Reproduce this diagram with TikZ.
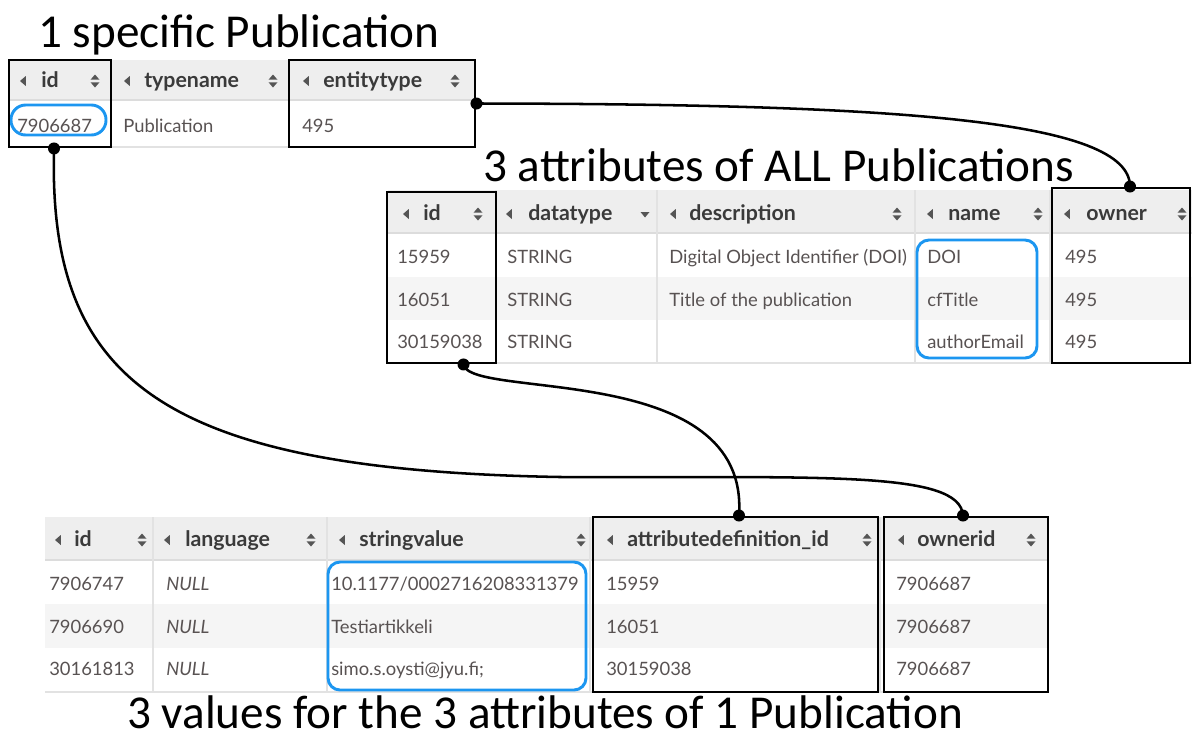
\documentclass[tikz,border=0pt]{standalone}
\usepackage{fontspec}
\setmainfont{Lato}
\newfontfamily\titlefont{Carlito}
\usetikzlibrary{fit,calc}
\definecolor{hdrbg}{HTML}{EEEEEE}
\definecolor{altbg}{HTML}{F5F5F5}
\definecolor{sepc}{HTML}{E2E2E2}
\definecolor{hdrline}{HTML}{DCDCDC}
\definecolor{celltxt}{RGB}{88,82,82}
\definecolor{hdrtxt}{HTML}{3A3A3A}
\definecolor{iconc}{HTML}{555555}
\definecolor{hlblue}{RGB}{28,150,240}
\tikzset{
  cell/.style={anchor=base west, inner sep=0pt, font=\fontsize{13.8}{16}\selectfont, text=celltxt},
  nullcell/.style={cell, font=\fontsize{13.8}{16}\selectfont\itshape},
  hdr/.style={anchor=base west, inner sep=0pt, font=\fontsize{16}{18}\selectfont\bfseries, text=hdrtxt},
  titletext/.style={anchor=base west, inner sep=0pt, font=\titlefont\fontsize{35.4}{40}\selectfont, text=black},
  colbox/.style={draw=black, line width=2.2pt, inner sep=0pt},
  hlbox/.style={draw=hlblue, line width=2.2pt, inner sep=0pt, rounded corners=9pt},
  conn/.style={draw=black, line width=1.9pt},
  sepline/.style={draw=sepc, line width=0.8pt},
  ltri/.pic={\fill[iconc] (2.8,-5) -- (2.8,5) -- (-3,0) -- cycle;},
  sorticon/.pic={\fill[iconc] (-4.5,-1.3) -- (4.5,-1.3) -- (0,-6.5) -- cycle;
                 \fill[iconc] (-4.5,1.3) -- (4.5,1.3) -- (0,6.5) -- cycle;},
  dtri/.pic={\fill[iconc] (-4.5,-2) -- (4.5,-2) -- (0,3.5) -- cycle;}
}
\begin{document}
\begin{tikzpicture}[x=0.75pt,y=-0.75pt]
\useasboundingbox (0,0) rectangle (1192,733);

% ---------- titles ----------
\node[titletext] (title1) at (38,47) {1 specific Publication};
\node[titletext] (title2) at (483,181) {3 attributes of ALL Publications};
\node[titletext] (title3) at (127,728) {3 values for the 3 attributes of 1 Publication};

% ---------- table 1 backgrounds ----------
\fill[hdrbg] (9,60) rectangle (475,100);
\draw[hdrline, line width=1.5pt] (9,99.5) -- (475,99.5);
\draw[sepline] (9,147) -- (475,147);
\draw[sepline] (111,60) -- (111,147);
\draw[sepline] (289,60) -- (289,147);

% ---------- table 2 backgrounds ----------
\fill[hdrbg] (388,190) rectangle (1192,233);
\fill[altbg] (388,277) rectangle (1192,320);
\draw[hdrline, line width=1.5pt] (388,232.5) -- (1192,232.5);
\draw[sepline] (388,363) -- (1192,363);
\foreach \xx in {496,657,915,1050} {\draw[sepline] (\xx,190) -- (\xx,363);}

% ---------- table 3 backgrounds ----------
\fill[hdrbg] (45,517) rectangle (1048,560);
\fill[altbg] (45,604) rectangle (1048,648);
\draw[hdrline, line width=1.5pt] (45,559.5) -- (1048,559.5);
\draw[sepline] (45,692) -- (1048,692);
\foreach \xx in {153,327,590,880} {\draw[sepline] (\xx,517) -- (\xx,692);}

% ---------- table 1 header ----------
\pic at (23,81) {ltri}; \node[hdr] (t1h1) at (41,87) {id}; \pic at (95,81) {sorticon};
\pic at (127,81) {ltri}; \node[hdr] (t1h2) at (144,87) {typename}; \pic at (273,81) {sorticon};
\pic at (306,81) {ltri}; \node[hdr] (t1h3) at (323,87) {entitytype}; \pic at (455,81) {sorticon};
% table 1 data
\node[cell] (t1c1) at (17,132) {7906687};
\node[cell] (t1c2) at (123,132) {Publication};
\node[cell] (t1c3) at (302,132) {495};

% ---------- table 2 header ----------
\pic at (406,214) {ltri}; \node[hdr] (t2h1) at (423,220) {id}; \pic at (478,214) {sorticon};
\pic at (509,214) {ltri}; \node[hdr] (t2h2) at (528,220) {datatype}; \pic at (645,214) {dtri};
\pic at (673,214) {ltri}; \node[hdr] (t2h3) at (689,220) {description}; \pic at (897,214) {sorticon};
\pic at (930,214) {ltri}; \node[hdr] (t2h4) at (948,220) {name}; \pic at (1038,214) {sorticon};
\pic at (1067,214) {ltri}; \node[hdr] (t2h5) at (1086,220) {owner}; \pic at (1182,214) {sorticon};
% table 2 data
\node[cell] (t2r1c1) at (397,263) {15959};
\node[cell] (t2r1c2) at (507,263) {STRING};
\node[cell] (t2r1c3) at (669,263) {Digital Object Identifier (DOI)};
\node[cell] (t2r1c4) at (927,263) {DOI};
\node[cell] (t2r1c5) at (1065,263) {495};
\node[cell] (t2r2c1) at (397,306) {16051};
\node[cell] (t2r2c2) at (507,306) {STRING};
\node[cell] (t2r2c3) at (669,306) {Title of the publication};
\node[cell] (t2r2c4) at (927,306) {cfTitle};
\node[cell] (t2r2c5) at (1065,306) {495};
\node[cell] (t2r3c1) at (397,348) {30159038};
\node[cell] (t2r3c2) at (507,348) {STRING};
\node[cell] (t2r3c4) at (927,348) {authorEmail};
\node[cell] (t2r3c5) at (1065,348) {495};

% ---------- table 3 header ----------
\pic at (58,540) {ltri}; \node[hdr] (t3h1) at (74,546) {id}; \pic at (142,540) {sorticon};
\pic at (167,540) {ltri}; \node[hdr] (t3h2) at (185,546) {language}; \pic at (311,540) {sorticon};
\pic at (342,540) {ltri}; \node[hdr] (t3h3) at (359,546) {stringvalue}; \pic at (581,540) {sorticon};
\pic at (610,540) {ltri}; \node[hdr] (t3h4) at (627,546) {attributedefinition\_id}; \pic at (867,540) {sorticon};
\pic at (901,540) {ltri}; \node[hdr] (t3h5) at (917,546) {ownerid}; \pic at (1031,540) {sorticon};
% table 3 data
\node[cell] (t3r1c1) at (49,590) {7906747};
\node[nullcell] (t3r1c2) at (166,590) {NULL};
\node[cell] (t3r1c3) at (331,590) {10.1177/0002716208331379};
\node[cell] (t3r1c4) at (606,590) {15959};
\node[cell] (t3r1c5) at (896,590) {7906687};
\node[cell] (t3r2c1) at (49,633) {7906690};
\node[nullcell] (t3r2c2) at (166,633) {NULL};
\node[cell] (t3r2c3) at (331,633) {Testiartikkeli};
\node[cell] (t3r2c4) at (606,633) {16051};
\node[cell] (t3r2c5) at (896,633) {7906687};
\node[cell] (t3r3c1) at (49,675) {30161813};
\node[nullcell] (t3r3c2) at (166,675) {NULL};
\node[cell] (t3r3c3) at (331,675) {simo.s.oysti@jyu.fi;};
\node[cell] (t3r3c4) at (606,675) {30159038};
\node[cell] (t3r3c5) at (896,675) {7906687};

% ---------- highlight boxes ----------
\node[hlbox, rounded corners=11pt, fit={(11,105) (106,135)}] (hlid) {};
\node[hlbox, fit={(917,240) (1037,358)}] (hlname) {};
\node[hlbox, fit={(328,562) (586,690)}] (hlvalue) {};

% ---------- black column boxes ----------
\node[colbox, fit={(9,60) (111,147)}] (pubid) {};
\node[colbox, fit={(289,60) (475,147)}] (pubtype) {};
\node[colbox, fit={(387,192) (496,363)}] (attrid) {};
\node[colbox, fit={(1052,188) (1190,363)}] (attrowner) {};
\node[colbox, fit={(593,517) (878,692)}] (valattr) {};
\node[colbox, fit={(884,517) (1048,692)}] (valowner) {};

% ---------- connector ends ----------
\coordinate (pEnt) at (pubtype.east);
\coordinate (pOwner) at ($(attrowner.north)+(9,0)$);
\coordinate (pId) at ($(pubid.south)+(-6,0)$);
\coordinate (pOid) at ($(valowner.north)+(-3,0)$);
\coordinate (pAid) at ($(attrid.south)+(22,0)$);
\coordinate (pAttr) at ($(valattr.north)+(3.5,0)$);

% ---------- connectors ----------
\draw[conn] (pEnt) .. controls (900,104) and (1130,120) .. (pOwner);
\draw[conn] (pId) .. controls (48,380) and (160,470) .. (560,477)
                  .. controls (820,478) and (960,470) .. (pOid);
\draw[conn] (pAid) .. controls (470,400) and (750,360) .. (pAttr);

\foreach \p in {pEnt,pOwner,pId,pOid,pAid,pAttr} {\fill (\p) circle (4.5pt);}
\end{tikzpicture}
\end{document}
